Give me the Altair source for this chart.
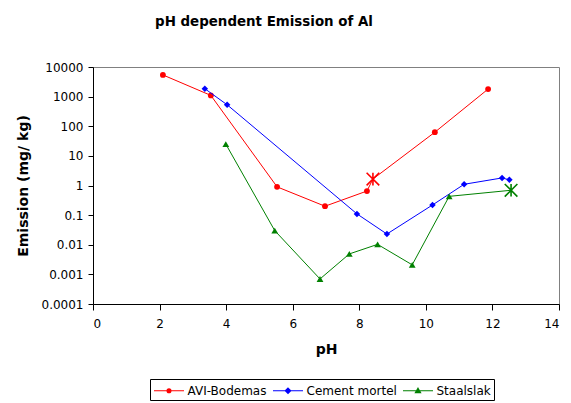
import altair as alt
import pandas as pd

# pH-dependent aluminium emission for three materials (log scale)
series_names = ["AVI-Bodemas", "Cement mortel", "Staalslak"]
series_colors = ["#FF0000", "#0000FF", "#008000"]

avi_ph = [2.10, 3.54, 5.53, 6.97, 8.23, 8.41, 10.27, 11.87]
avi_em = [5400, 1100, 0.9, 0.2, 0.65, 1.65, 63, 1800]
avi_marker = ["point", "point", "point", "point", "point", "star", "point", "point"]

cement_ph = [3.36, 4.03, 7.93, 8.83, 10.20, 11.15, 12.29, 12.51]
cement_em = [1850, 530, 0.11, 0.023, 0.22, 1.1, 1.8, 1.55]
cement_marker = ["point"] * 8

staal_ph = [3.99, 5.46, 6.82, 7.70, 8.55, 9.59, 10.70, 12.56]
staal_em = [25, 0.03, 0.0007, 0.0049, 0.0103, 0.0021, 0.43, 0.69]
staal_marker = ["point"] * 7 + ["star"]

x_ticks = [0, 2, 4, 6, 8, 10, 12, 14]
y_ticks = [0.0001, 0.001, 0.01, 0.1, 1, 10, 100, 1000, 10000]

rows = []
for name, phs, ems, marks in [
    ("AVI-Bodemas", avi_ph, avi_em, avi_marker),
    ("Cement mortel", cement_ph, cement_em, cement_marker),
    ("Staalslak", staal_ph, staal_em, staal_marker),
]:
    for i, (p, e, m) in enumerate(zip(phs, ems, marks)):
        rows.append({"series": name, "ph": p, "em": e, "marker": m, "idx": i})
df = pd.DataFrame(rows)

FONT = "DejaVu Sans"
ASTERISK = "M-1,-1L1,1M-1,1L1,-1M0,-1L0,1"

# legend glyphs: a line twice the symbol box wide with a small solid marker in the middle
LEG_CIRCLE = ("M-2,0L2,0"
              "M-0.26,0A0.26,0.26,0,1,1,0.26,0A0.26,0.26,0,1,1,-0.26,0"
              "M-0.12,0A0.12,0.12,0,1,1,0.12,0A0.12,0.12,0,1,1,-0.12,0")
LEG_DIAMOND = ("M-2,0L2,0"
               "M0,-0.36L0.36,0L0,0.36L-0.36,0Z"
               "M0,-0.16L0.16,0L0,0.16L-0.16,0Z")
LEG_TRIANGLE = ("M-2,0L2,0"
                "M0,-0.34L0.34,0.24L-0.34,0.24Z"
                "M0,-0.12L0.12,0.1L-0.12,0.1Z")

x_enc = alt.X("ph:Q", title="pH",
              scale=alt.Scale(domain=[0, 14], nice=False, zero=False),
              axis=alt.Axis(values=x_ticks, grid=False, tickSize=6, labelPadding=8,
                            titlePadding=13, titleFontSize=14, titleFontWeight="bold"))
y_enc = alt.Y("em:Q", title="Emission (mg/ kg)",
              scale=alt.Scale(type="log", domain=[0.0001, 10000], nice=False),
              axis=alt.Axis(values=y_ticks, format="~g", grid=False, tickSize=5,
                            labelPadding=5, titlePadding=11, titleFontSize=14,
                            titleFontWeight="bold"))

base = alt.Chart(df)

point_shapes = {"AVI-Bodemas": ("circle", 34), "Cement mortel": ("diamond", 42),
                "Staalslak": ("triangle-up", 46)}

layers = []
for name, col in zip(series_names, series_colors):
    shp, sz = point_shapes[name]
    sub = base.transform_filter(alt.datum.series == name)
    layers.append(
        sub.mark_line(strokeWidth=1, color=col).encode(x=x_enc, y=y_enc, order="idx:Q")
    )
    layers.append(
        sub.transform_filter(alt.datum.marker == "point").mark_point(
            shape=shp, size=sz, filled=True, opacity=1, color=col
        ).encode(x=x_enc, y=y_enc)
    )
    layers.append(
        sub.transform_filter(alt.datum.marker == "star").mark_point(
            shape=ASTERISK, size=160, filled=False, strokeWidth=1.6, opacity=1, color=col
        ).encode(x=x_enc, y=y_enc)
    )

legend_props = dict(
    orient="none", legendX=57, legendY=312, direction="horizontal", title=None,
    symbolSize=225, symbolOffset=7.5, symbolStrokeWidth=1.2, labelFont=FONT,
    labelFontSize=12, labelColor="black", strokeColor="black", fillColor="white",
    padding=3, columnPadding=3, labelOffset=10, symbolOpacity=1,
)

# empty layer that only carries the series legend
legend_layer = base.transform_filter("false").mark_point(
    filled=False, strokeWidth=1.2, opacity=1
).encode(
    x=x_enc, y=y_enc,
    color=alt.Color("series:N",
                    scale=alt.Scale(domain=series_names, range=series_colors),
                    legend=alt.Legend(**legend_props)),
    shape=alt.Shape("series:N",
                    scale=alt.Scale(domain=series_names,
                                    range=[LEG_CIRCLE, LEG_DIAMOND, LEG_TRIANGLE]),
                    legend=alt.Legend(**legend_props)),
)

chart = alt.layer(*layers, legend_layer).properties(
    width=466, height=237,
    autosize=alt.AutoSizeParams(type="none"),
    padding={"left": 93, "top": 67, "right": 12, "bottom": 99},
    background="white",
    title=alt.TitleParams("pH dependent Emission of Al", font=FONT, fontSize=13.4,
                          fontWeight="bold", anchor="middle", frame="group",
                          dx=-62, offset=33, color="black"),
).configure_view(
    stroke="#808080", strokeWidth=1
).configure_axis(
    labelFont=FONT, labelFontSize=12, labelColor="black", titleFont=FONT,
    titleColor="black", domainColor="black", tickColor="black", domainWidth=1
)

chart.save("out.html", embed_options={"renderer": "svg", "actions": False})
